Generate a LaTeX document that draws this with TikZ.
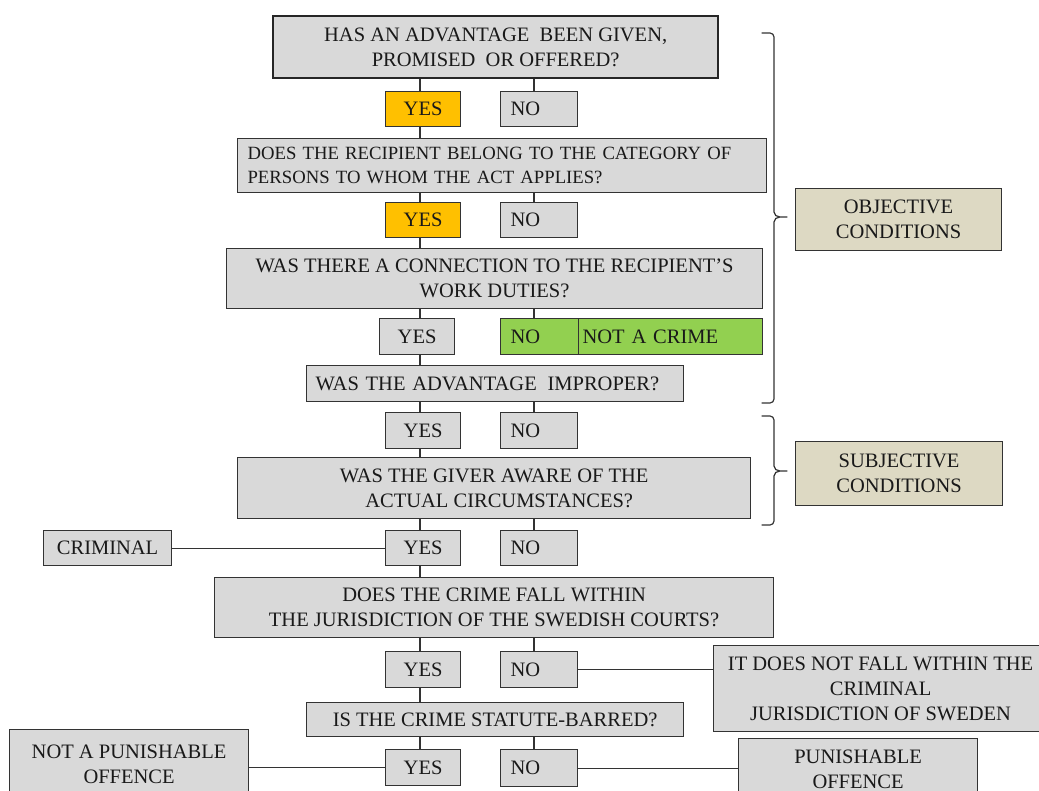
\documentclass[tikz,border=0pt]{standalone}
\usepackage{fontspec}
\setmainfont{Liberation Serif}
\newfontfamily\tnr{Liberation Serif}
\definecolor{boxgray}{HTML}{D9D9D9}
\definecolor{orng}{HTML}{FFC000}
\definecolor{grn}{HTML}{92D050}
\definecolor{tan}{HTML}{DDD9C3}
\definecolor{edge}{HTML}{333333}
\tikzset{
  box/.style={draw=edge, fill=boxgray, line width=1.2pt, inner sep=0pt, anchor=north west,
    font=\tnr\fontsize{20.5}{25}\selectfont, align=center, text=black!90},
  wire/.style={draw=edge, line width=1.2pt},
  brace/.style={draw=edge, line width=1.2pt, line cap=round, line join=round}
}
% \bx{name}{x}{y}{w}{h}{style}{text}
\newcommand\bx[7]{\node[box,#6,minimum width=#4pt,minimum height=#5pt] (#1) at (#2pt,-#3pt) {#7};}
\begin{document}
\begin{tikzpicture}[x=1pt,y=1pt]
\useasboundingbox (0,0) rectangle (1039,-791);
\clip (0,0) rectangle (1039,-791);
\fill[white] (0,0) rectangle (1039,-791);

\bx{q1}{272}{15}{445}{62}{line width=2.4pt, draw=black!85}{HAS AN ADVANTAGE\ \ BEEN GIVEN,\\PROMISED\ \ OR OFFERED?}
\bx{yes1}{385}{91}{75}{35}{fill=orng}{YES}
\bx{no1}{500}{91}{77}{35}{text width=57pt,align=left}{NO}
\bx{q2}{237}{138}{529}{54}{text width=509pt,align=left,font=\tnr\fontsize{18.7}{23.5}\selectfont}{DOES THE RECIPIENT BELONG TO THE CATEGORY OF\\PERSONS TO WHOM THE ACT APPLIES?}
\bx{yes2}{385}{202}{75}{35}{fill=orng}{YES}
\bx{no2}{500}{202}{77}{35}{text width=57pt,align=left}{NO}
\bx{q3}{226}{248}{536}{60}{}{WAS THERE A CONNECTION TO THE RECIPIENT’S\\WORK DUTIES?}
\bx{yes3}{379}{318}{75}{36}{}{YES}
\bx{no3}{500}{318}{78}{36}{fill=grn,text width=58pt,align=left}{NO}
\bx{nac}{578}{318}{184}{36}{fill=grn,text width=176pt,align=left}{NOT A CRIME}
\bx{q4}{306}{365}{377}{36}{text width=359pt,align=left}{WAS THE ADVANTAGE\kern4pt\ IMPROPER?}
\bx{yes4}{385}{412}{75}{36}{}{YES}
\bx{no4}{500}{412}{77}{36}{text width=57pt,align=left}{NO}
\bx{q5}{237}{457}{513}{61}{}{WAS THE GIVER AWARE OF THE\\\ \ ACTUAL CIRCUMSTANCES?}
\bx{crim}{43}{530}{128}{35}{}{CRIMINAL}
\bx{yes5}{385}{530}{75}{35}{}{YES}
\bx{no5}{500}{530}{77}{35}{text width=57pt,align=left}{NO}
\bx{q6}{214}{577}{559}{60}{}{DOES THE CRIME FALL WITHIN\\THE JURISDICTION OF THE SWEDISH COURTS?}
\bx{yes6}{385}{651}{75}{36}{}{YES}
\bx{no6}{500}{651}{77}{36}{text width=57pt,align=left}{NO}
\bx{itd}{713}{645}{334}{86}{}{IT DOES NOT FALL WITHIN THE\\CRIMINAL\\JURISDICTION OF SWEDEN}
\bx{q7}{306}{702}{377}{34}{}{IS THE CRIME STATUTE-BARRED?}
\bx{yes7}{385}{749}{75}{36}{}{YES}
\bx{no7}{500}{749}{77}{37}{text width=57pt,align=left}{NO}
\bx{nap}{9}{729}{239}{70}{}{NOT A PUNISHABLE\\OFFENCE}
\bx{po}{738}{738}{239}{62}{}{PUNISHABLE\\OFFENCE}
\bx{obj}{795}{188}{206}{62}{fill=tan}{OBJECTIVE\\CONDITIONS}
\bx{subj}{795}{441}{207}{64}{fill=tan}{SUBJECTIVE\\CONDITIONS}

% connectors
\foreach \a/\b/\c in {q1/yes1/no1, q2/yes2/no2, q3/yes3/no3, q4/yes4/no4, q5/yes5/no5, q6/yes6/no6, q7/yes7/no7}{
  \draw[wire] (\a.south -| 420,0) -- (\b.north -| 420,0);
  \draw[wire] (\a.south -| 534,0) -- (\c.north -| 534,0);
}
\foreach \a/\b in {yes1/q2, yes2/q3, yes3/q4, yes4/q5, yes5/q6, yes6/q7}{
  \draw[wire] (\a.south -| 420,0) -- (\b.north -| 420,0);
}
\draw[wire] (crim.east) -- (yes5.west);
\draw[wire] (no6.east) -- (itd.west |- no6.east);
\draw[wire] (nap.east |- yes7.west) -- (yes7.west);
\draw[wire] (no7.east) -- (po.west |- no7.east);

% braces
\coordinate (ot) at (762,-33);
\coordinate (ob) at (762,-403);
\coordinate (otip) at (787,-217);
\draw[brace] (ot) -- (770,-33) to[out=0,in=90] (774,-37) -- (774,-212) to[out=-90,in=180] (780,-217) -- (otip)
  (780,-217) to[out=180,in=90] (774,-222) -- (774,-399) to[out=-90,in=0] (770,-403) -- (ob);
\coordinate (st) at (762,-416);
\coordinate (sb) at (762,-525);
\coordinate (stip) at (787,-471);
\draw[brace] (st) -- (770,-416) to[out=0,in=90] (774,-420) -- (774,-466) to[out=-90,in=180] (780,-471) -- (stip)
  (780,-471) to[out=180,in=90] (774,-476) -- (774,-521) to[out=-90,in=0] (770,-525) -- (sb);
\end{tikzpicture}
\end{document}
